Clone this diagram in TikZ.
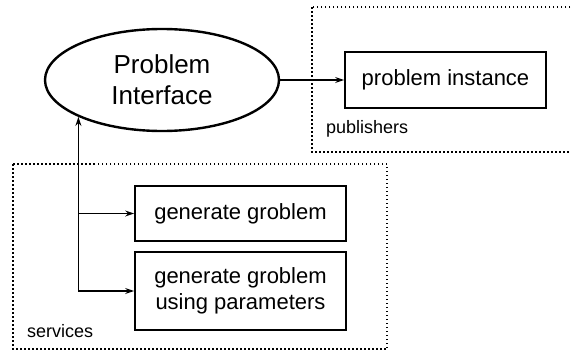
\documentclass[tikz,border=0pt]{standalone}
\usepackage{fontspec}
\setmainfont{Liberation Sans}
\usetikzlibrary{arrows.meta, shapes.geometric, positioning}

\tikzset{
  iface/.style={draw, ellipse, line width=2.4pt, minimum width=234pt, minimum height=102pt,
    inner sep=0pt, align=center, font=\fontsize{26}{31}\selectfont},
  opbox/.style={draw, rectangle, line width=1.7pt, inner sep=0pt, align=center,
    font=\fontsize{22}{26}\selectfont},
  group/.style={draw, line width=1.5pt, dash pattern=on 1.5pt off 2.5pt},
  grouplabel/.style={anchor=west, inner sep=0pt, font=\fontsize{18}{21}\selectfont},
  link/.style={line width=1.4pt, -{Stealth[length=9pt,width=6pt]}},
  link2/.style={line width=1.4pt, {Stealth[length=9pt,width=6pt]}-{Stealth[length=9pt,width=6pt]}}
}

\begin{document}
\begin{tikzpicture}[x=1pt, y=-1pt]
  \useasboundingbox (0,0) rectangle (571,351);
  \clip (0,0) rectangle (571,351);

  % groups
  \draw[group] (312,7) rectangle (580,152);
  \draw[group] (13,164) rectangle (387,349);
  \node[grouplabel] (publishers) at (326,129) {publishers};
  \node[grouplabel] (services) at (27,331) {services};

  % nodes
  \node[iface] (iface) at (162,80) {Problem\\Interface};
  \node[opbox, minimum width=201pt, minimum height=56pt] (instance) at (445.5,80) {problem instance};
  \node[opbox, minimum width=211pt, minimum height=55pt] (gen) at (240.5,213.5) {generate groblem};
  \node[opbox, minimum width=211pt, minimum height=78pt] (genparams) at (240.5,291) {generate groblem\\using parameters};

  % connectors
  \draw[link] (iface) -- (instance);
  \draw[link2] (iface.south west) |- (genparams.west);
  \draw[link] (iface.south west |- gen.west) -- (gen.west);
\end{tikzpicture}
\end{document}
